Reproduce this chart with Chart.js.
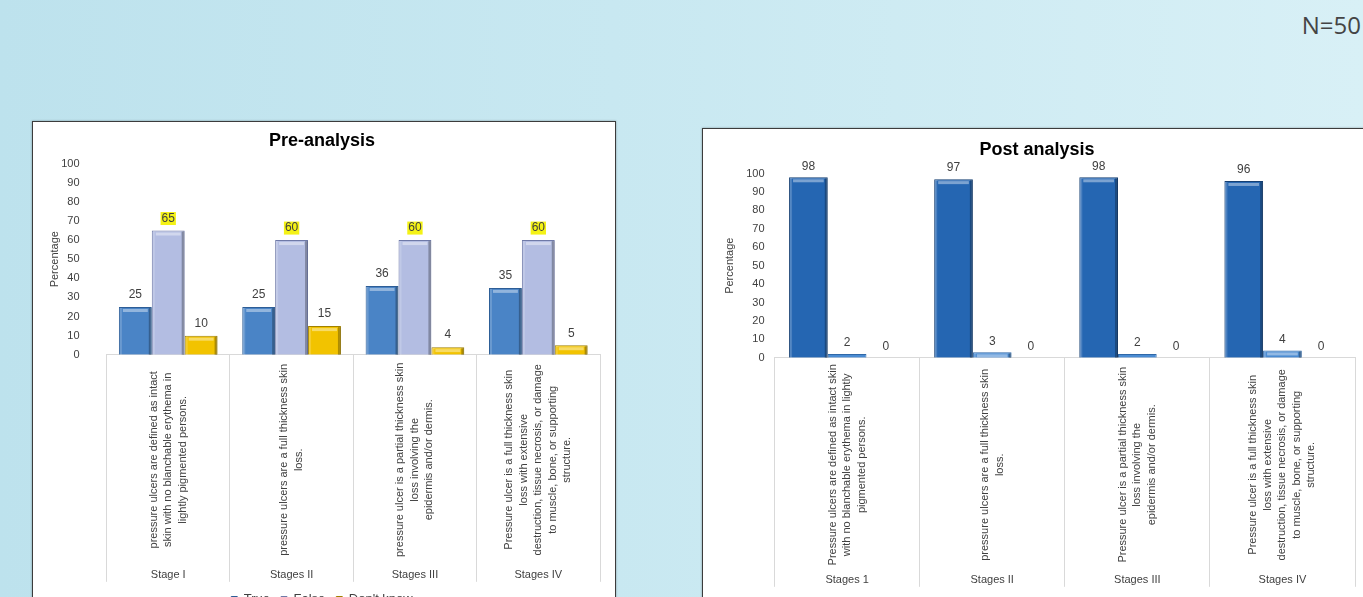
<!DOCTYPE html>
<html>
<head>
<meta charset="utf-8">
<script src="https://cdn.jsdelivr.net/npm/chart.js@4.4.0/dist/chart.umd.min.js"></script>
<style>
  html, body { margin: 0; padding: 0; width: 1363px; height: 597px; overflow: hidden; }
  body {
    position: relative;
    background: linear-gradient(90deg, #bde2ed 0%, #c8e8f1 45%, #d8f0f6 100%);
    font-family: "Liberation Sans", Arial, sans-serif;
  }
  .nlabel { position: absolute; right: 2px; top: 8px; font: 24px "Open Sans", sans-serif; color: #444; }
  .box { position: absolute; background: #fff; border: 1px solid #3c3c3c; box-shadow: 0 0 2px rgba(0,0,0,.35); }
  #preBox { left: 32px; top: 121px; width: 582px; height: 494px; }
  #postBox { left: 702px; top: 128px; width: 668px; height: 492px; }
  canvas { display: block; }
</style>
</head>
<body>
<div class="nlabel">N=50</div>
<div class="box" id="preBox"><canvas id="preChart" width="582" height="494"></canvas></div>
<div class="box" id="postBox"><canvas id="postChart" width="668" height="492"></canvas></div>

<script>
// values (percent)
const preStages = ['Stage I', 'Stages II', 'Stages III', 'Stages IV'];
const postStages = ['Stages 1', 'Stages II', 'Stages III', 'Stages IV'];

const preTrue = [25, 25, 36, 35];
const preFalse = [65, 60, 60, 60];
const preDontKnow = [10, 15, 4, 5];

const postTrue = [98, 97, 98, 96];
const postFalse = [2, 3, 2, 4];
const postDontKnow = [0, 0, 0, 0];

const percentTicks = [0, 10, 20, 30, 40, 50, 60, 70, 80, 90, 100];

const preDesc = [
  ['pressure ulcers are defined as intact', 'skin with no blanchable erythema in', 'lightly pigmented persons.'],
  ['pressure ulcers are a full thickness skin', 'loss.'],
  ['pressure ulcer is a partial thickness skin', 'loss involving the', 'epidermis and/or dermis.'],
  ['Pressure ulcer is a full thickness skin', 'loss with extensive', 'destruction, tissue necrosis, or damage', 'to muscle, bone, or supporting', 'structure.']
];
const postDesc = [
  ['Pressure ulcers are defined as intact skin', 'with no blanchable erythema in lightly', 'pigmented persons.'],
  ['pressure ulcers are a full thickness skin', 'loss.'],
  ['Pressure ulcer is a partial thickness skin', 'loss involving the', 'epidermis and/or dermis.'],
  ['Pressure ulcer is a full thickness skin', 'loss with extensive', 'destruction, tissue necrosis, or damage', 'to muscle, bone, or supporting', 'structure.']
];

const FONT = '"Liberation Sans", Arial, sans-serif';
const TXT = '#404040';

// bevel shading on bars + value labels above them
const barValues = {
  id: 'barValues',
  afterDatasetsDraw(chart, args, opts) {
    const ctx = chart.ctx;
    ctx.save();
    chart.data.datasets.forEach((ds, di) => {
      chart.getDatasetMeta(di).data.forEach(bar => {
        const {x, y, base, width} = bar.getProps(['x', 'y', 'base', 'width']);
        const h = base - y;
        if (h < 4) return;
        const l = x - width / 2, r = x + width / 2;
        ctx.fillStyle = 'rgba(255,255,255,0.18)';
        ctx.fillRect(l + 1, y + 1, 2, h - 1);
        ctx.fillStyle = 'rgba(0,0,0,0.28)';
        ctx.fillRect(r - 3, y + 1, 2.5, h - 1);
        ctx.fillStyle = 'rgba(255,255,255,0.4)';
        ctx.fillRect(l + 4, y + 2, width - 8, 3);
      });
    });
    ctx.font = '12px ' + FONT;
    ctx.textAlign = 'center';
    ctx.textBaseline = 'middle';
    chart.data.datasets.forEach((ds, di) => {
      chart.getDatasetMeta(di).data.forEach((bar, i) => {
        const txt = String(ds.data[i]);
        const y = bar.y - opts.gap;
        if (ds.highlight) {
          const w = ctx.measureText(txt).width;
          ctx.fillStyle = ds.highlight;
          ctx.fillRect(bar.x - w / 2 - 1, y - 6.5, w + 2, 13);
        }
        ctx.fillStyle = TXT;
        ctx.fillText(txt, bar.x, y);
      });
    });
    ctx.restore();
  }
};

// rotated statement under each stage
const stageText = {
  id: 'stageText',
  afterDraw(chart, args, opts) {
    const ctx = chart.ctx;
    const xs = chart.scales.x;
    ctx.save();
    ctx.font = '11px ' + FONT;
    ctx.fillStyle = TXT;
    ctx.textAlign = 'center';
    ctx.textBaseline = 'middle';
    opts.lines.forEach((lines, i) => {
      ctx.save();
      ctx.translate(xs.getPixelForTick(i), xs.top + opts.offset);
      ctx.rotate(-Math.PI / 2);
      lines.forEach((ln, j) => {
        ctx.fillText(ln, 0, (j - (lines.length - 1) / 2) * opts.lineHeight);
      });
      ctx.restore();
    });
    ctx.restore();
  }
};

function makeOptions(title, tp, pad, yTitlePad, yTickPad, tickLen, descLines, descOffset, gap) {
  return {
    responsive: false,
    animation: false,
    layout: { padding: pad },
    plugins: {
      title: {
        display: true, text: title, color: '#000',
        font: { family: FONT, size: 18, weight: 'bold' },
        padding: tp
      },
      legend: {
        position: 'bottom',
        labels: { boxWidth: 6, boxHeight: 6, padding: 11, color: TXT, font: { family: FONT, size: 13 } }
      },
      tooltip: { enabled: false },
      barValues: { gap: gap },
      stageText: { lines: descLines, offset: descOffset, lineHeight: 14.5 }
    },
    scales: {
      x: {
        grid: { drawOnChartArea: false, drawTicks: true, tickLength: tickLen, color: '#d9d9d9', offset: true },
        border: { display: true, color: '#d9d9d9' },
        ticks: { color: TXT, font: { family: FONT, size: 11 }, padding: -13, maxRotation: 0 },
        afterFit: s => { s.height -= s.options.ticks.padding; }
      },
      y: {
        min: 0, max: 100,
        afterBuildTicks: s => { s.ticks = percentTicks.map(v => ({ value: v })); },
        afterFit: s => { s.width -= s.options.ticks.padding; },
        grid: { display: false, drawTicks: false },
        border: { display: false },
        ticks: { color: TXT, font: { family: FONT, size: 11 }, padding: yTickPad },
        title: { display: true, text: 'Percentage', color: TXT, font: { family: FONT, size: 11 }, padding: yTitlePad }
      }
    }
  };
}

new Chart(document.getElementById('preChart'), {
  type: 'bar',
  data: {
    labels: preStages,
    datasets: [
      { label: 'True', data: preTrue, backgroundColor: '#4a84c6', borderColor: '#2d5d96', borderWidth: 1, categoryPercentage: 0.8, barPercentage: 1 },
      { label: 'False', data: preFalse, backgroundColor: '#b3bde2', borderColor: '#6f7aa8', borderWidth: 1, categoryPercentage: 0.8, barPercentage: 1, highlight: '#f4f216' },
      { label: "Don't know", data: preDontKnow, backgroundColor: '#f2c300', borderColor: '#a08000', borderWidth: 1, categoryPercentage: 0.8, barPercentage: 1 }
    ]
  },
  options: makeOptions('Pre-analysis', { top: 8, bottom: 12 }, { left: 11, right: 15, top: 0, bottom: 0 },
    { top: 4, bottom: 0 }, 27, 227, preDesc, 105, 12),
  plugins: [barValues, stageText]
});

new Chart(document.getElementById('postChart'), {
  type: 'bar',
  data: {
    labels: postStages,
    datasets: [
      { label: 'True', data: postTrue, backgroundColor: '#2566b2', borderColor: '#153f72', borderWidth: 1, categoryPercentage: 0.8, barPercentage: 1 },
      { label: 'False', data: postFalse, backgroundColor: '#4a8bd2', borderColor: '#2f68a8', borderWidth: 1, categoryPercentage: 0.8, barPercentage: 1 },
      { label: "Don't know", data: postDontKnow, backgroundColor: '#9dbfe6', borderColor: '#9dbfe6', borderWidth: 0, categoryPercentage: 0.8, barPercentage: 1 }
    ]
  },
  options: makeOptions('Post analysis', { top: 10, bottom: 13 }, { left: 16, right: 16, top: 0, bottom: 0 },
    { top: 4, bottom: 10 }, 10, 229, postDesc, 107, 11),
  plugins: [barValues, stageText]
});
</script>
</body>
</html>
